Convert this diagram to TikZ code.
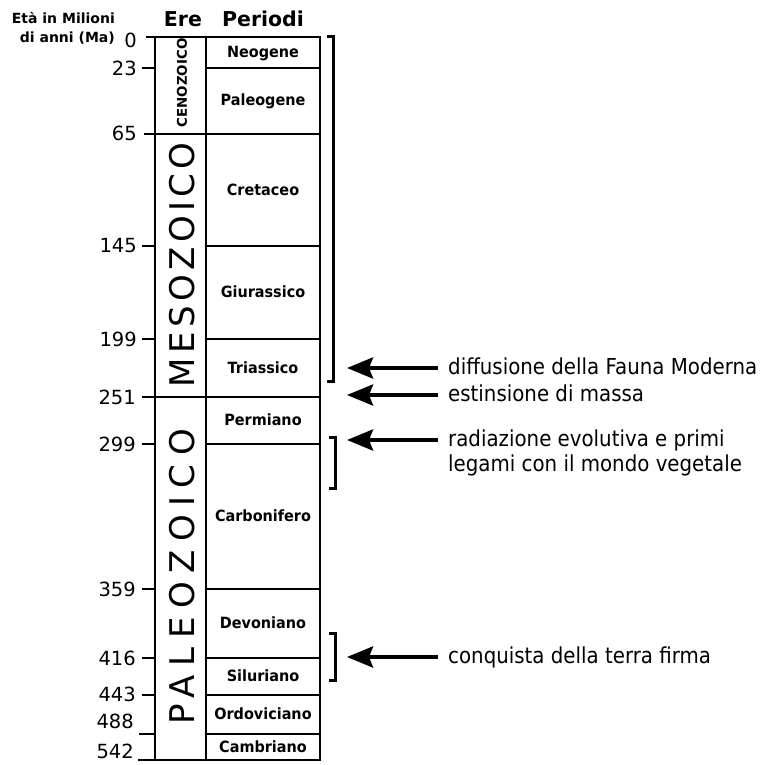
\documentclass[tikz,border=0pt]{standalone}
\usepackage{fontspec}
\setmainfont{DejaVu Sans}
\newfontfamily\notefont[FakeStretch=0.9]{DejaVu Sans}
\newfontfamily\perfont[FakeStretch=0.93]{DejaVu Sans}
\usetikzlibrary{arrows.meta}
\begin{document}
\begin{tikzpicture}[x=1pt,y=-1pt,
 frame/.style={line width=1.6pt, line cap=rect},
 age/.style={anchor=east, inner sep=0pt, font=\fontsize{19.5}{22}\selectfont},
 per/.style={inner sep=0pt, text height=11.5pt, text depth=0pt, font=\perfont\bfseries\fontsize{15.5}{18}\selectfont},
 note/.style={anchor=west, inner sep=0pt, text height=12pt, text depth=0pt, font=\notefont\fontsize{22}{25}\selectfont},
 arr/.style={line width=3.8pt, -{Stealth[length=26pt,width=21pt,inset=4pt]}},
 brk/.style={line width=3pt},
 hdr/.style={anchor=base, inner sep=0pt, font=\bfseries\fontsize{20.5}{24}\selectfont},
 small/.style={anchor=base east, inner sep=0pt, font=\bfseries\fontsize{14}{17}\selectfont},
]
\useasboundingbox (0,0) rectangle (769,765);
% headers
\node[small] (h1) at (115,24) {Età in Milioni};
\node[small] (h2) at (115,43) {di anni (Ma)};
\node[hdr] (ere) at (183,27) {Ere};
\node[hdr] (per) at (263,27) {Periodi};
% frame
\draw[frame] (147,37) -- (320,37);
\draw[frame] (155,37) -- (155,760);
\draw[frame] (206,37) -- (206,760);
\draw[frame] (320,37) -- (320,760);
\draw[frame] (139,760) -- (320,760);
\draw[frame] (145,134) -- (320,134);
\draw[frame] (143,397) -- (320,397);
\foreach \y in {68,246,339,444,589,658,695} {
  \draw[frame] (143,\y) -- (155,\y);
  \draw[frame] (206,\y) -- (320,\y);
}
\draw[frame] (140,734) -- (155,734);
\draw[frame] (206,734) -- (320,734);
% ages
\node[age] (a0) at (137,40) {0};
\node[age] (a23) at (137,68) {23};
\node[age] (a65) at (137,133) {65};
\node[age] (a145) at (137,246) {145};
\node[age] (a199) at (137,339) {199};
\node[age] (a251) at (136,397) {251};
\node[age] (a299) at (136,444) {299};
\node[age] (a359) at (136,589) {359};
\node[age] (a416) at (136,658) {416};
\node[age] (a443) at (136,694) {443};
\node[age] (a488) at (134,721) {488};
\node[age] (a542) at (134,751) {542};
% periods
\node[per] (neo) at (263,52) {Neogene};
\node[per] (pal) at (263,100) {Paleogene};
\node[per] (cre) at (263,190) {Cretaceo};
\node[per] (giu) at (263,292) {Giurassico};
\node[per] (tri) at (263,368) {Triassico};
\node[per] (perm) at (263,420) {Permiano};
\node[per] (car) at (263,516) {Carbonifero};
\node[per] (dev) at (263,623) {Devoniano};
\node[per] (sil) at (263,676) {Siluriano};
\node[per] (ord) at (263,714) {Ordoviciano};
\node[per] (cam) at (263,747) {Cambriano};
% eras
\node[rotate=90, inner sep=0pt, font=\bfseries\fontsize{13.4}{16}\selectfont] (cen) at (182,83) {CENOZOICO};
\node[rotate=90, inner sep=0pt, font=\fontsize{34}{40}\selectfont\addfontfeature{LetterSpace=13}] (mes) at (182,265) {MESOZOICO};
\node[rotate=90, inner sep=0pt, font=\fontsize{34}{40}\selectfont\addfontfeature{LetterSpace=25}] (paleo) at (182,577) {PALEOZOICO};
% brackets
\draw[brk] (327,37) -- (333,37) -- (333,381) -- (327,381);
\draw[brk] (329,437) -- (335,437) -- (335,488) -- (329,488);
\draw[brk] (329,633) -- (335,633) -- (335,680) -- (329,680);
% notes
\node[note] (n1) at (448,368) {diffusione della Fauna Moderna};
\node[note] (n2) at (448,395) {estinsione di massa};
\node[note] (n3) at (448,440) {\vtop{\hbox{radiazione evolutiva e primi}\hbox{legami con il mondo vegetale}}};
\node[note] (n4) at (448,657) {conquista della terra firma};
\coordinate (p1) at (347,368);
\coordinate (p2) at (347,395);
\coordinate (p3) at (347,440);
\coordinate (p4) at (347,657);
\draw[arr] ([xshift=-10pt]n1.west) -- (p1);
\draw[arr] ([xshift=-10pt]n2.west) -- (p2);
\draw[arr] ([xshift=-10pt]n3.west) -- (p3);
\draw[arr] ([xshift=-10pt]n4.west) -- (p4);
\end{tikzpicture}
\end{document}
